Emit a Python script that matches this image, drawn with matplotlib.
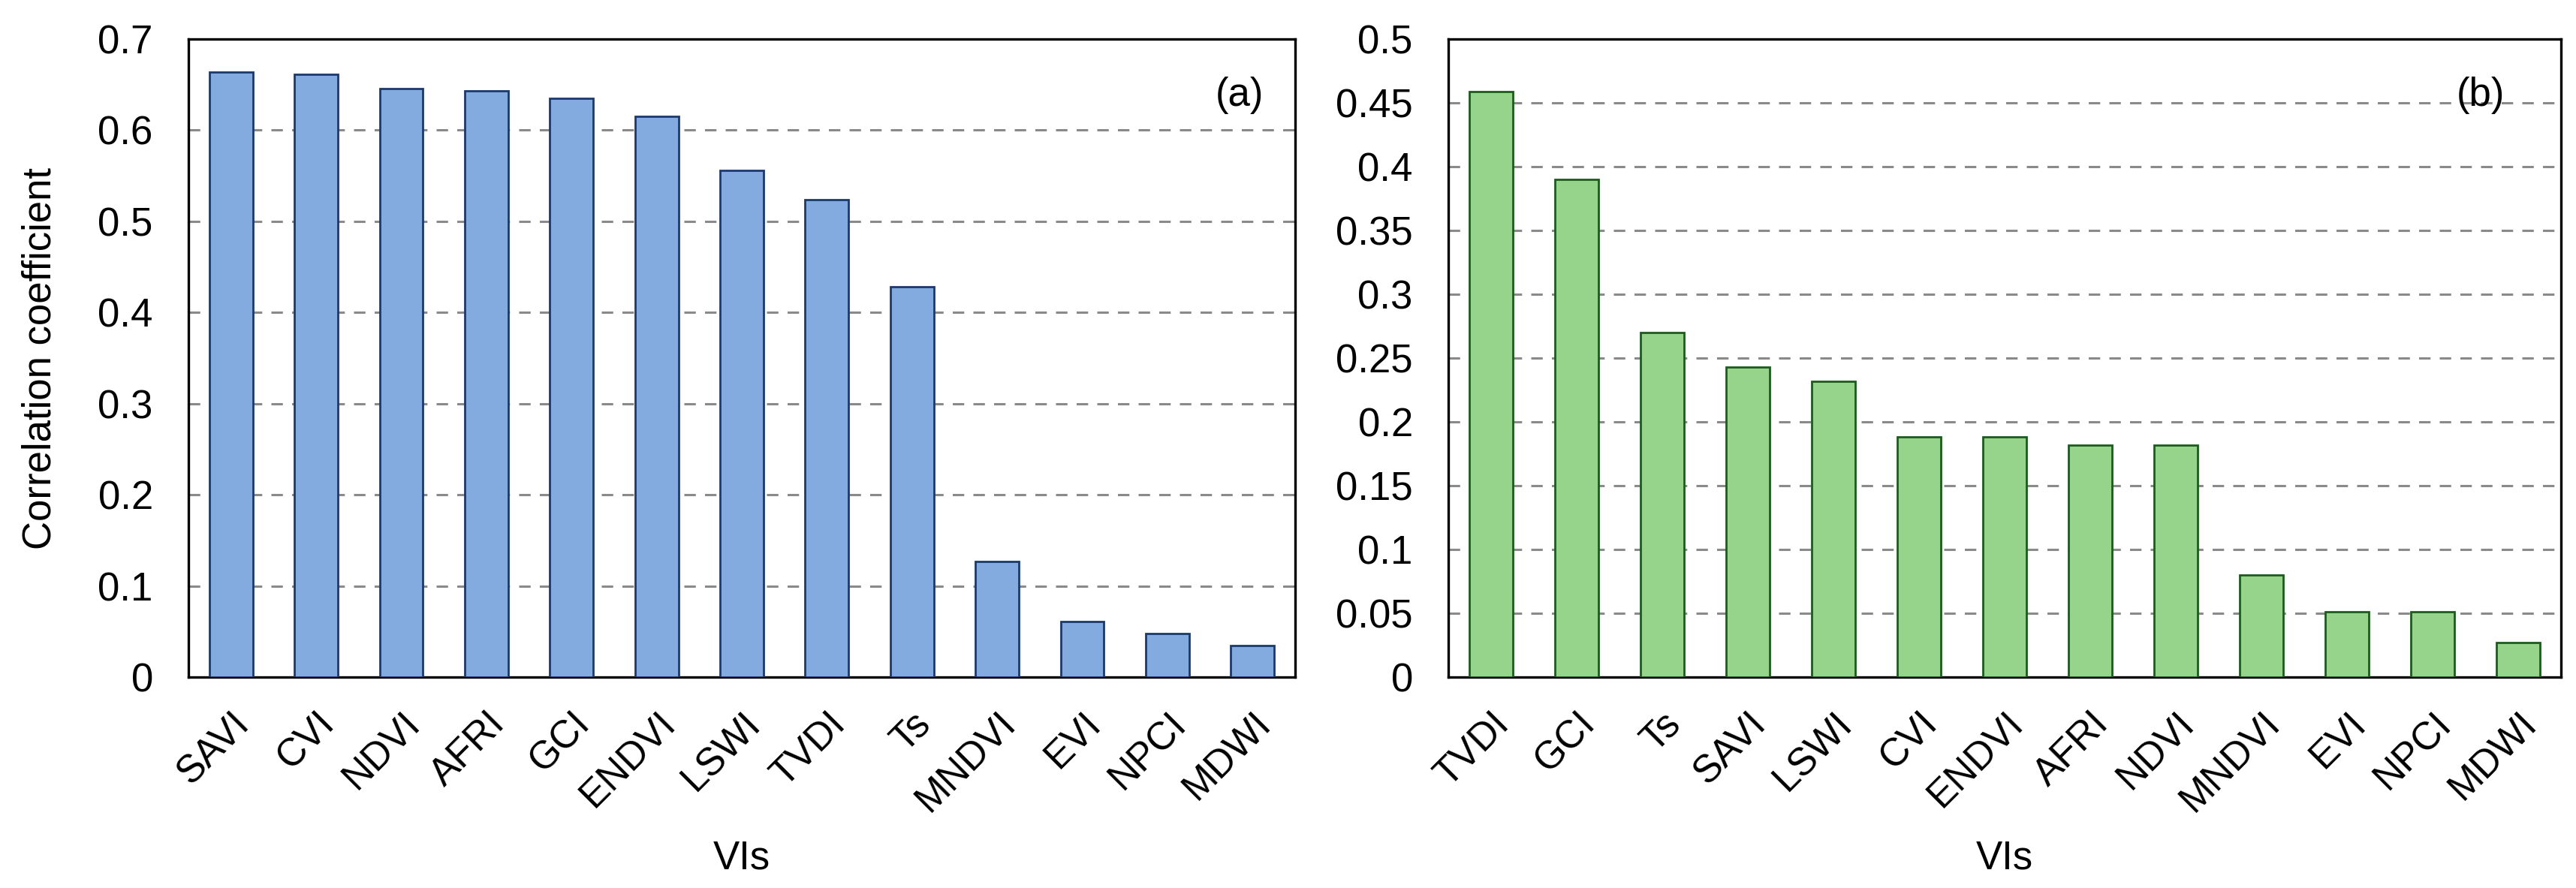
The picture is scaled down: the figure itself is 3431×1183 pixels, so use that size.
import matplotlib
matplotlib.use("Agg")
import matplotlib.pyplot as plt
from matplotlib.ticker import FixedLocator

# panel (a) correlation of each VI
vis_a = ["SAVI", "CVI", "NDVI", "AFRI", "GCI", "ENDVI", "LSWI", "TVDI",
         "Ts", "MNDVI", "EVI", "NPCI", "MDWI"]
corr_a = [0.664, 0.661, 0.646, 0.643, 0.635, 0.615, 0.556, 0.524,
          0.428, 0.127, 0.061, 0.048, 0.035]
yticks_a = [0, 0.1, 0.2, 0.3, 0.4, 0.5, 0.6, 0.7]
ylabels_a = ["0", "0.1", "0.2", "0.3", "0.4", "0.5", "0.6", "0.7"]

# panel (b)
vis_b = ["TVDI", "GCI", "Ts", "SAVI", "LSWI", "CVI", "ENDVI", "AFRI",
         "NDVI", "MNDVI", "EVI", "NPCI", "MDWI"]
corr_b = [0.459, 0.390, 0.270, 0.243, 0.232, 0.188, 0.188, 0.182,
          0.182, 0.080, 0.051, 0.051, 0.027]
yticks_b = [0, 0.05, 0.1, 0.15, 0.2, 0.25, 0.3, 0.35, 0.4, 0.45, 0.5]
ylabels_b = ["0", "0.05", "0.1", "0.15", "0.2", "0.25", "0.3", "0.35",
             "0.4", "0.45", "0.5"]

plt.rcParams['font.family'] = ['Liberation Sans', 'DejaVu Sans']

W, H = 3431, 1183
fig = plt.figure(figsize=(W / 100, H / 100), dpi=100)
bottom = (H - 902) / H
height = (902 - 52) / H
ax_a = fig.add_axes([251 / W, bottom, (1725 - 251) / W, height])
ax_b = fig.add_axes([1929 / W, bottom, (3411 - 1929) / W, height])


def draw(ax, names, vals, ticks, tlabels, fill, edge, tag, tag_x):
    x = list(range(len(names)))
    ax.bar(x, vals, width=0.51, color=fill, edgecolor=edge, linewidth=2.0, zorder=3)
    ax.set_xlim(-0.5, len(names) - 0.5)
    ax.set_ylim(ticks[0], ticks[-1])
    ax.yaxis.set_major_locator(FixedLocator(ticks))
    ax.set_yticklabels(tlabels, fontsize=38)
    ax.set_xticks(x)
    ax.set_xticklabels(names, rotation=45, ha='right', rotation_mode='anchor',
                       fontsize=37)
    ax.tick_params(length=0)
    ax.tick_params(axis='y', pad=34)
    ax.tick_params(axis='x', pad=27)
    for t in ticks[1:-1]:
        ax.axhline(t, color='#8a8a8a', linewidth=2.2, dashes=(5, 4), zorder=1)
    for s in ax.spines.values():
        s.set_linewidth(2.4)
        s.set_color('black')
    ax.set_xlabel("VIs", fontsize=38)
    ax.xaxis.set_label_coords(0.5, -0.255)
    ax.text(tag_x, 0.912, tag, transform=ax.transAxes, fontsize=38,
            ha='center', va='center')


draw(ax_a, vis_a, corr_a, yticks_a, ylabels_a, '#84abdf', '#1b3a6b', "(a)", 0.95)
draw(ax_b, vis_b, corr_b, yticks_b, ylabels_b, '#96d48b', '#1d5a1d', "(b)", 0.928)
ax_a.set_ylabel("Correlation coefficient", fontsize=38)
ax_a.yaxis.set_label_coords(-0.117, 0.5)

fig.savefig("out.png", dpi=100)
